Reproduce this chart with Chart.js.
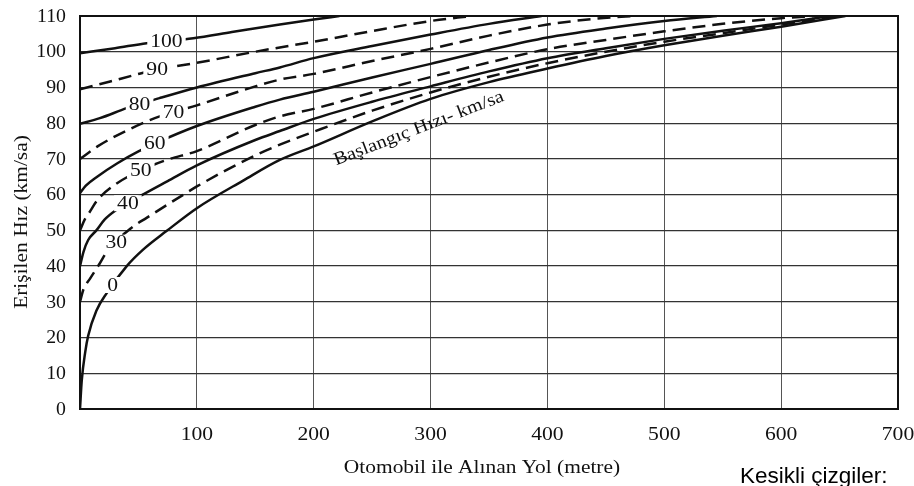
<!DOCTYPE html>
<html>
<head>
<meta charset="utf-8">
<script src="https://cdn.jsdelivr.net/npm/chart.js@4"></script>
<style>
  body { margin: 0; background: #fff; }
</style>
</head>
<body>
<canvas id="hizChart" width="914" height="486"></canvas>
<script>
// Başlangıç hızları (km/sa) - her eğri için
const startSpeeds = [0, 30, 40, 50, 60, 70, 80, 90, 100];

// alınan yol (m) ve erişilen hız (km/sa), eğri eğri
const dist0 = [0, 1.5, 4.5, 7, 14, 23, 40, 54, 74, 100, 140, 171, 200, 250, 300, 350, 400, 450, 500, 550, 600, 655];
const speed0 = [0, 8, 16, 20.5, 27.5, 32.5, 40, 44.6, 49.8, 56.2, 64, 69.7, 73.5, 80.5, 86.8, 91.5, 95.3, 98.8, 101.8, 104.5, 107, 110];
const dist30 = [0, 3, 8.6, 17, 23, 44, 57, 91, 100, 150, 171, 200, 250, 300, 350, 400, 450, 500, 550, 600, 648];
const speed30 = [30, 33.5, 36.5, 40.8, 44, 50.7, 53.5, 60.5, 62.3, 71, 74, 77.6, 83.5, 88.6, 93, 96.8, 100, 102.8, 105.2, 107.6, 110];
const dist40 = [0, 3, 7, 14, 21, 31, 52, 75, 100, 150, 171, 200, 250, 300, 350, 400, 450, 500, 550, 600, 642];
const speed40 = [40, 44, 47.3, 50, 53, 55.7, 59.7, 63.8, 68.2, 75.3, 77.8, 81.2, 86, 90.3, 94.5, 98.2, 101, 103.6, 105.9, 108, 110];
const dist50 = [0, 4, 8, 15, 30, 52, 75, 100, 150, 171, 200, 250, 300, 350, 400, 450, 500, 550, 600, 630];
const speed50 = [50, 53, 55, 58.5, 62.8, 66.8, 69.8, 72.2, 79.5, 81.9, 84, 88.6, 92.9, 97, 100.7, 103.3, 105.7, 107.8, 109.4, 110];
const dist60 = [0, 5, 15, 32, 50, 64, 100, 150, 171, 200, 250, 300, 350, 400, 450, 500, 545];
const speed60 = [60.4, 62.5, 65.1, 68.8, 72.1, 74.3, 79.2, 84.6, 86.6, 88.8, 92.8, 96.6, 100.5, 104, 106.5, 108.6, 110];
const dist70 = [0, 15, 41, 64, 100, 150, 171, 200, 250, 300, 350, 400, 440, 475];
const speed70 = [70, 73.5, 78.1, 81.4, 85, 90.3, 92.2, 93.8, 97.4, 100.8, 104.5, 107.6, 109.2, 110];
const dist80 = [0, 17, 40, 68, 100, 150, 171, 200, 250, 300, 350, 395];
const speed80 = [79.8, 81.4, 84.2, 87, 90, 94, 95.6, 98.2, 101.6, 104.8, 107.8, 110];
const dist90 = [0, 25, 48, 65, 100, 150, 171, 200, 250, 300, 335];
const speed90 = [89.5, 91.6, 93.6, 95, 96.9, 100, 101.2, 102.8, 105.8, 108.6, 110];
const dist100 = [0, 30, 57, 97, 130, 171, 200, 222];
const speed100 = [99.6, 101, 102.4, 103.8, 105.5, 107.6, 109, 110];

const distances = [dist0, dist30, dist40, dist50, dist60, dist70, dist80, dist90, dist100];
const speeds = [speed0, speed30, speed40, speed50, speed60, speed70, speed80, speed90, speed100];

// eğri etiketinin yazıldığı yol (m)
const labelAt = [28, 31, 41, 52, 64, 80, 51, 66, 74];

const xTicks = [100, 200, 300, 400, 500, 600, 700];
const yTicks = [0, 10, 20, 30, 40, 50, 60, 70, 80, 90, 100, 110];

const SERIF = '"Liberation Serif", "Times New Roman", serif';

const datasets = startSpeeds.map(function (v0, i) {
  const dashed = v0 === 30 || v0 === 50 || v0 === 70 || v0 === 90;
  return {
    label: String(v0),
    data: distances[i].map(function (d, k) { return { x: d, y: speeds[i][k] }; }),
    borderColor: '#111',
    borderWidth: 2.5,
    borderDash: dashed ? [13, 7] : [],
    pointRadius: 0,
    fill: false,
    cubicInterpolationMode: 'monotone'
  };
});

function speedAt(i, d) {
  const xs = distances[i], ys = speeds[i];
  for (let k = 1; k < xs.length; k++) {
    if (d <= xs[k]) {
      const t = (d - xs[k - 1]) / (xs[k] - xs[k - 1]);
      return ys[k - 1] + t * (ys[k] - ys[k - 1]);
    }
  }
  return ys[ys.length - 1];
}

// taranmış şekildeki yazılar yatayda geniş, onun için biraz geriyoruz
function wideText(ctx, txt, x, y, sx, align, angle) {
  ctx.save();
  ctx.translate(x, y);
  if (angle) ctx.rotate(angle * Math.PI / 180);
  ctx.scale(sx, 1);
  ctx.textAlign = align;
  ctx.fillText(txt, 0, 0);
  ctx.restore();
}

const curveLabels = {
  id: 'curveLabels',
  afterDatasetsDraw(chart) {
    const ctx = chart.ctx;
    const xs = chart.scales.x, ys = chart.scales.y;
    const a = chart.chartArea;

    ctx.save();
    ctx.font = '18px ' + SERIF;
    ctx.textBaseline = 'middle';
    startSpeeds.forEach(function (v0, i) {
      const px = xs.getPixelForValue(labelAt[i]);
      const py = ys.getPixelForValue(speedAt(i, labelAt[i]));
      const txt = String(v0);
      const w = ctx.measureText(txt).width * 1.2 + 6;
      ctx.fillStyle = '#fff';
      ctx.fillRect(px - w / 2, py - 8, w, 16);
      ctx.fillStyle = '#111';
      wideText(ctx, txt, px, py + 1, 1.2, 'center');
    });

    // Başlangıç hızı notu
    wideText(ctx, 'Başlangıç Hızı- km/sa', xs.getPixelForValue(290), ys.getPixelForValue(78.5), 1.13, 'center', -21);

    // eksen yazıları
    xTicks.forEach(function (v) {
      wideText(ctx, String(v), xs.getPixelForValue(v), a.bottom + 26, 1.2, 'center');
    });
    yTicks.forEach(function (v) {
      wideText(ctx, String(v), a.left - 14, ys.getPixelForValue(v) + 1, 1.1, 'right');
    });
    wideText(ctx, 'Otomobil ile Alınan Yol (metre)', 482, 468, 1.19, 'center');
    wideText(ctx, 'Erişilen Hız (km/sa)', 22, 222, 1.19, 'center', -90);
    ctx.restore();

    // çerçeve
    ctx.save();
    ctx.strokeStyle = '#111';
    ctx.lineWidth = 2;
    ctx.strokeRect(a.left, a.top, a.right - a.left, a.bottom - a.top);
    ctx.restore();

    ctx.save();
    ctx.font = '22.5px "Liberation Sans", Arial, sans-serif';
    ctx.fillStyle = '#000';
    ctx.textBaseline = 'alphabetic';
    ctx.fillText('Kesikli çizgiler:', 740, 483);
    ctx.restore();
  }
};

new Chart(document.getElementById('hizChart'), {
  type: 'line',
  data: { datasets: datasets },
  options: {
    responsive: false,
    animation: false,
    layout: { padding: { left: 0, right: 16, top: 16, bottom: 0 } },
    plugins: { legend: { display: false }, tooltip: { enabled: false } },
    scales: {
      x: {
        type: 'linear',
        min: 0,
        max: 700,
        afterFit(scale) { scale.height = 77; },
        afterBuildTicks(scale) { scale.ticks = xTicks.map(function (v) { return { value: v }; }); },
        ticks: { display: false },
        grid: { color: '#555', lineWidth: 1, drawTicks: false },
        border: { display: false }
      },
      y: {
        min: 0,
        max: 110,
        afterFit(scale) { scale.width = 80; },
        ticks: { display: false, stepSize: 10 },
        grid: { color: '#333', lineWidth: 1.3, drawTicks: false },
        border: { display: false }
      }
    }
  },
  plugins: [curveLabels]
});
</script>
</body>
</html>
